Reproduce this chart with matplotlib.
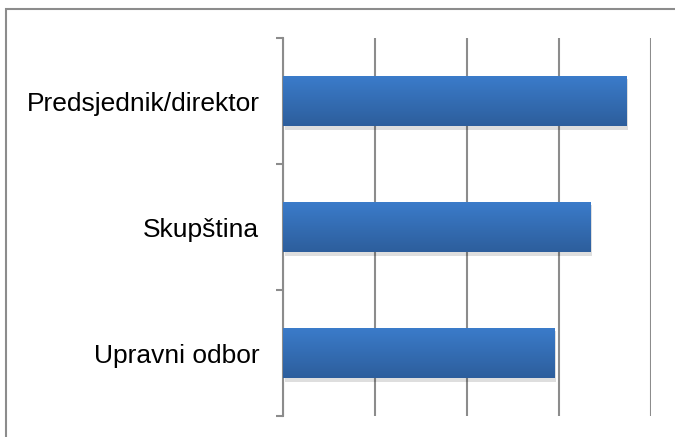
import numpy as np
import matplotlib
matplotlib.use('Agg')
import matplotlib.pyplot as plt
import matplotlib.patheffects as pe
from matplotlib.patches import Rectangle

categories = ['Upravni odbor', 'Skupština', 'Predsjednik/direktor']
values = [2.95, 3.34, 3.73]
x_max = 4

plt.rcParams['font.family'] = ['Liberation Sans', 'DejaVu Sans']

fig = plt.figure(figsize=(6.75, 4.37), dpi=100)
ax = fig.add_axes([283 / 675, 1 - 416 / 437, 368 / 675, 378 / 437])

# outer chart border (only left/top visible in the crop)
fig.patches.append(Rectangle((6 / 675, -0.1), 1.2, 1 - 9 / 437 + 0.1,
                             transform=fig.transFigure, fill=False,
                             edgecolor='#8c8c8c', linewidth=1.5))

y = np.arange(len(categories))
bars = ax.barh(y, values, height=0.4, color='#3470ba', zorder=3,
               path_effects=[pe.SimplePatchShadow(offset=(1.5, -2.5), shadow_rgbFace='black', alpha=0.13),
                             pe.Normal()])

# vertical gradient fill on each bar, lighter on top
grad = np.linspace(0, 1, 256).reshape(-1, 1)
cmap = matplotlib.colors.LinearSegmentedColormap.from_list('bar', ['#3b7ccb', '#2d5e9c'])
for b in bars:
    x0, y0, w, h = b.get_x(), b.get_y(), b.get_width(), b.get_height()
    im = ax.imshow(grad, extent=[x0, x0 + w, y0, y0 + h], cmap=cmap,
                   aspect='auto', zorder=4, origin='upper')
    im.set_clip_path(b)

ax.set_xlim(0, x_max)
ax.set_ylim(-0.5, len(categories) - 0.5)

ax.set_xticks(np.arange(0, x_max + 1, 1))
ax.xaxis.grid(True, color='#8c8c8c', linewidth=1.5, zorder=0)
ax.tick_params(axis='x', length=0, labelbottom=False)

ax.set_yticks(y)
ax.set_yticklabels(categories, fontsize=19)
ax.tick_params(axis='y', length=0, pad=17)
ax.set_yticks(np.arange(-0.5, len(categories), 1), minor=True)
ax.tick_params(axis='y', which='minor', length=5, width=1.5, color='#8c8c8c')

for s in ['top', 'right', 'bottom']:
    ax.spines[s].set_visible(False)
ax.spines['left'].set_color('#8c8c8c')
ax.spines['left'].set_linewidth(1.5)

fig.savefig('out.png', dpi=100)
